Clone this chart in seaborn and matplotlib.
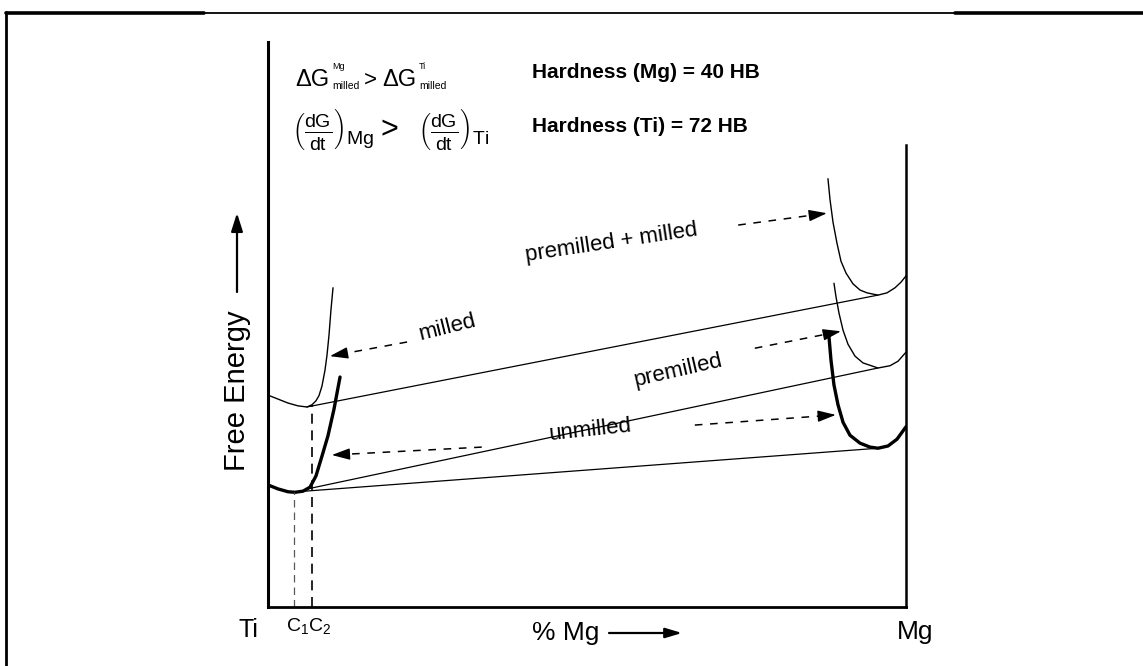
import numpy as np
import seaborn as sns
import matplotlib.pyplot as plt
from matplotlib.lines import Line2D

# ---- free-energy curves (x: % Mg, y: free energy, arbitrary units) ----
ti_milled_x = [0, 1.57, 3.13, 4.70, 6.11, 6.90, 7.52, 7.99, 8.46, 8.93, 9.25, 9.56, 9.87, 10.19]
ti_milled_y = [37.5, 36.8, 36.1, 35.6, 35.4, 35.8, 36.5, 37.4, 39.1, 41.9, 44.6, 48.1, 52.6, 56.5]

ti_unmilled_x = [0, 1.57, 3.13, 4.23, 5.49, 6.58, 7.52, 8.46, 9.40, 10.34, 11.29]
ti_unmilled_y = [21.6, 20.9, 20.4, 20.3, 20.5, 21.2, 23.2, 26.7, 30.3, 35.0, 40.7]

mg_pm_milled_x = [87.77, 88.09, 88.56, 89.18, 89.81, 90.60, 91.69, 92.79, 93.89, 95.61, 97.02, 98.28, 99.22, 100]
mg_pm_milled_y = [75.8, 72.1, 68.1, 64.4, 61.2, 59.1, 57.2, 56.1, 55.6, 55.2, 55.6, 56.5, 57.5, 58.6]

mg_premilled_x = [88.71, 89.03, 89.50, 90.13, 90.91, 92.01, 93.26, 95.61, 97.49, 98.75, 100]
mg_premilled_y = [57.3, 54.9, 52.0, 49.0, 46.5, 44.4, 43.2, 42.3, 42.7, 43.5, 45.1]

mg_unmilled_x = [87.93, 88.24, 88.71, 89.34, 90.13, 91.22, 92.79, 94.36, 95.61, 97.18, 98.59, 100]
mg_unmilled_y = [47.8, 43.7, 39.3, 35.8, 32.7, 30.4, 29.0, 28.3, 28.1, 28.5, 29.7, 31.9]

# common tangents between the Ti-side and Mg-side minima
tangent_milled_x = [6.1, 95.6]
tangent_milled_y = [35.4, 55.2]
tangent_premilled_x = [6.6, 95.6]
tangent_premilled_y = [21.0, 42.3]
tangent_unmilled_x = [5.8, 95.6]
tangent_unmilled_y = [20.5, 28.1]

# equilibrium compositions C1, C2 (x, curve height)
c1 = (4.1, 20.3)
c2 = (6.9, 35.8)

# dashed pointer arrows: (start, tip)
pointer_arrows = [
    ((21.8, 46.9), (9.7, 44.4)),     # milled -> Ti curve
    ((73.7, 67.6), (87.6, 69.7)),    # premilled + milled -> Mg curve
    ((76.3, 45.8), (89.8, 48.8)),    # premilled -> Mg curve
    ((33.5, 28.3), (10.0, 26.9)),    # unmilled -> Ti curve
    ((66.9, 32.2), (89.0, 34.0)),    # unmilled -> Mg curve
]

curve_labels = ["premilled + milled", "milled", "premilled", "unmilled"]
curve_label_pos = [(53.9, 64.4), (28.2, 49.4), (64.3, 41.9), (50.5, 31.3)]
curve_label_rot = [8.5, 14, 13, 6]

hardness_lines = ["Hardness (Mg) = 40 HB", "Hardness (Ti) = 72 HB"]

# ---- style ----
sns.set_style("white")
plt.rcParams['font.family'] = ['Liberation Sans', 'DejaVu Sans']
plt.rcParams['text.color'] = 'black'
plt.rcParams['mathtext.fontset'] = 'custom'
plt.rcParams['mathtext.rm'] = 'Liberation Sans'
plt.rcParams['mathtext.it'] = 'Liberation Sans:italic'
plt.rcParams['mathtext.bf'] = 'Liberation Sans:bold'

W, H = 1143, 666
fig = plt.figure(figsize=(W / 100, H / 100), dpi=100)
fig.patch.set_facecolor('white')


def fp(x, y):
    """pixel position (from top-left) -> figure fraction"""
    return (x / W, 1 - y / H)


ax = fig.add_axes([268 / W, 1 - 607 / H, (906 - 268) / W, (607 - 42) / H])
ax.set_xlim(0, 100)
ax.set_ylim(0, 100)
ax.set_xticks([])
ax.set_yticks([])
ax.set_facecolor('white')
for side in ['left', 'right', 'bottom']:
    ax.spines[side].set_color('black')
ax.spines['top'].set_visible(False)
ax.spines['left'].set_linewidth(2.2)
ax.spines['bottom'].set_linewidth(2.0)
ax.spines['right'].set_linewidth(1.8)
ax.spines['right'].set_bounds(0, 81.8)

thin = dict(color='black', lw=1.0, sort=False, estimator=None, ax=ax)
thick = dict(color='black', lw=2.4, sort=False, estimator=None, ax=ax)

sns.lineplot(x=ti_milled_x, y=ti_milled_y, **thin)
sns.lineplot(x=ti_unmilled_x, y=ti_unmilled_y, **thick)
sns.lineplot(x=mg_pm_milled_x, y=mg_pm_milled_y, **thin)
sns.lineplot(x=mg_premilled_x, y=mg_premilled_y, **thin)
sns.lineplot(x=mg_unmilled_x, y=mg_unmilled_y, **thick)

for tx, ty in [(tangent_milled_x, tangent_milled_y),
               (tangent_premilled_x, tangent_premilled_y),
               (tangent_unmilled_x, tangent_unmilled_y)]:
    sns.lineplot(x=tx, y=ty, color='black', lw=0.9, sort=False, estimator=None, ax=ax)

# dashed drop lines to C1 and C2
ax.plot([c1[0], c1[0]], [0, c1[1]], color='0.35', lw=0.9, ls=(0, (6, 4)))
ax.plot([c2[0], c2[0]], [0, c2[1]], color='black', lw=1.2, ls=(0, (6, 4)))


def dashed_arrow(start, tip, head_px=15):
    p0 = ax.transData.transform(start)
    p1 = ax.transData.transform(tip)
    u = (p1 - p0) / np.hypot(*(p1 - p0))
    back = ax.transData.inverted().transform(p1 - u * head_px)
    ax.plot([start[0], back[0]], [start[1], back[1]], color='black', lw=1.1,
            ls=(0, (5, 5)))
    ax.annotate("", xy=tip, xytext=back,
                arrowprops=dict(arrowstyle="-|>,head_length=1.1,head_width=0.35",
                                color='black', lw=1.0, shrinkA=0, shrinkB=0))


for s, t in pointer_arrows:
    dashed_arrow(s, t)

for lab, pos, rot in zip(curve_labels, curve_label_pos, curve_label_rot):
    ax.text(pos[0], pos[1], lab, fontsize=16, rotation=rot, ha='center',
            va='center', rotation_mode='anchor')

# ---- header relations ----
fig.text(*fp(295, 86), "ΔG", fontsize=17, va='baseline')
fig.text(*fp(332, 69), "Mg", fontsize=6.5, va='baseline')
fig.text(*fp(332, 89), "milled", fontsize=7.5, va='baseline')
fig.text(*fp(364, 86), ">", fontsize=16, va='baseline')
fig.text(*fp(382, 86), "ΔG", fontsize=17, va='baseline')
fig.text(*fp(419, 69), "Ti", fontsize=6.5, va='baseline')
fig.text(*fp(419, 89), "milled", fontsize=7.5, va='baseline')

frac_mg = r"$\left(\frac{\mathrm{dG}}{\mathrm{dt}}\right)_{\mathrm{Mg}}$"
frac_ti = r"$\left(\frac{\mathrm{dG}}{\mathrm{dt}}\right)_{\mathrm{Ti}}$"
fig.text(*fp(292, 130), frac_mg, fontsize=20, va='center')
fig.text(*fp(380, 130), ">", fontsize=22, va='center')
fig.text(*fp(418, 130), frac_ti, fontsize=20, va='center')

for i, line in enumerate(hardness_lines):
    fig.text(*fp(532, 73 + 54 * i), line, fontsize=15, fontweight='bold', va='center')

# ---- axis captions ----
fig.text(*fp(237, 391), "Free Energy", rotation=90, fontsize=21,
         ha='center', va='center')
fig.add_artist(plt.Annotation("", xy=fp(237, 213), xytext=fp(237, 292),
                              xycoords='figure fraction',
                              arrowprops=dict(arrowstyle="-|>,head_length=1.1,head_width=0.35",
                                              color='black', lw=1.6,
                                              shrinkA=0, shrinkB=0)))

fig.text(*fp(248, 630), "Ti", fontsize=18, ha='center', va='center')
fig.text(*fp(915, 632), "Mg", fontsize=19, ha='center', va='center')
fig.text(*fp(309, 626), r"$\mathrm{C}_1\mathrm{C}_2$", fontsize=14,
         ha='center', va='center')
fig.text(*fp(532, 633), "% Mg", fontsize=19, va='center')
fig.add_artist(plt.Annotation("", xy=fp(682, 633), xytext=fp(609, 633),
                              xycoords='figure fraction',
                              arrowprops=dict(arrowstyle="-|>,head_length=1.0,head_width=0.3",
                                              color='black', lw=1.6,
                                              shrinkA=0, shrinkB=0)))

# ---- page frame ----
for xs, ys, lw in [([6, 204], [13, 13], 2.6),
                   ([204, 955], [13, 13], 1.3),
                   ([955, 1143], [13, 13], 2.6),
                   ([6, 6], [12, 666], 2.0)]:
    fig.add_artist(Line2D([x / W for x in xs], [1 - y / H for y in ys],
                          lw=lw, color='black', transform=fig.transFigure))

fig.savefig("out.png", dpi=100, facecolor='white')
